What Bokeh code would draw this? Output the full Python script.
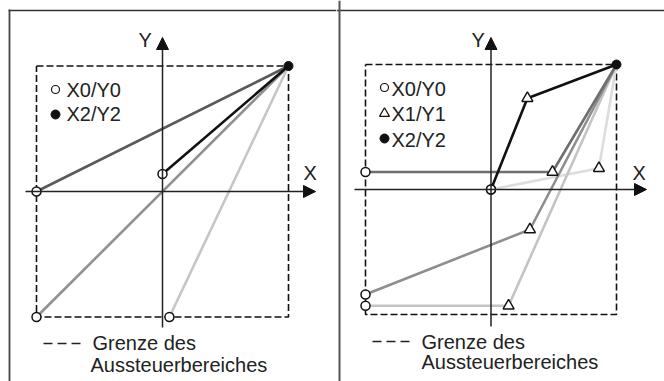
from bokeh.plotting import figure
from bokeh.models import Span, Arrow, NormalHead, Range1d
from bokeh.layouts import row
from bokeh.embed import file_html
from bokeh.resources import INLINE
from bokeh.core.properties import value

# ---------------- data ----------------
# Limits of the control range (dashed box)
lim_x = [-1, 1, 1, -1, -1]
lim_y = [1, 1, -1, -1, 1]

# common end point X2/Y2
x2, y2 = 1.0, 1.0

# left panel: two-point curves X0/Y0 -> X2/Y2
left_x0 = [-1.0, -1.0, 0.055, 0.0]
left_y0 = [0.0, -1.0, -1.0, 0.14]
left_col = ["#5a5a5a", "#909090", "#c6c6c6", "#111111"]

# right panel: three-point curves X0/Y0 -> X1/Y1 -> X2/Y2
right_x0 = [0.0, -1.0, -1.0, -1.0, 0.0]
right_y0 = [0.0, -0.93, -0.84, 0.14, 0.0]
right_x1 = [0.86, 0.14, 0.31, 0.49, 0.29]
right_y1 = [0.17, -0.93, -0.32, 0.14, 0.73]
right_col = ["#dddddd", "#c4c4c4", "#8e8e8e", "#6e6e6e", "#111111"]

legend_left = ["X0/Y0", "X2/Y2"]
legend_right = ["X0/Y0", "X1/Y1", "X2/Y2"]
limit_text = ["Grenze des", "Aussteuerbereiches"]

FONT = value("Liberation Sans")
FS = "20px"
TXT = "#222222"
H = 381
DT = 6  # text baseline correction (px)


def make_fig(w, px_left, cx, sx, cy, sy):
    # page pixel -> data helpers (layout only)
    X = lambda px: (px - cx) / sx
    Y = lambda py: (cy - py) / sy
    p = figure(width=w, height=H, output_backend="svg", toolbar_location=None,
               x_range=Range1d(X(px_left), X(px_left + w)),
               y_range=Range1d(Y(H), Y(0)),
               min_border=0, min_border_left=0, min_border_right=0,
               min_border_top=0, min_border_bottom=0)
    p.xaxis.visible = False
    p.yaxis.visible = False
    p.grid.visible = False
    p.outline_line_color = None
    p.background_fill_color = "white"
    p.border_fill_color = "white"
    return p, X, Y


def axes(p, X, Y, xa0, xa1, ya0, ya1, xl, yl):
    p.add_layout(Arrow(x_start=X(xa0), y_start=0, x_end=X(xa1), y_end=0,
                       line_color="#222222", line_width=1.5,
                       end=NormalHead(size=12, fill_color="#111111", line_color="#111111", line_width=1)))
    p.add_layout(Arrow(x_start=0, y_start=Y(ya0), x_end=0, y_end=Y(ya1),
                       line_color="#222222", line_width=1.5,
                       end=NormalHead(size=12, fill_color="#111111", line_color="#111111", line_width=1)))
    p.text(x=[X(xl[0]), X(yl[0])], y=[Y(xl[1] - DT), Y(yl[1] - DT)], text=["X", "Y"],
           text_font=FONT, text_font_size="20px", text_color=TXT,
           text_baseline="alphabetic", text_align="left")


# ---------------- left panel ----------------
pl, XL, YL = make_fig(336, 0, 162, 126, 191, 125.5)
pl.segment(x0=[XL(8)], y0=[YL(10)], x1=[XL(336)], y1=[YL(10)], line_color="#333333", line_width=1.6)
pl.segment(x0=[XL(9)], y0=[YL(9)], x1=[XL(9)], y1=[YL(381)], line_color="#444444", line_width=1.8)
pl.line(lim_x, lim_y, line_color="#111111", line_width=1.6, line_dash="7 3")
axes(pl, XL, YL, 25, 315, 327, 37, (303, 178), (138, 45))
for x0, y0, c in zip(left_x0, left_y0, left_col):
    pl.line([x0, x2], [y0, y2], line_color=c, line_width=2.6)
pl.scatter(left_x0, left_y0, marker="circle", size=9, fill_color="white",
           line_color="#111111", line_width=1.5)
pl.scatter([x2], [y2], marker="circle", size=9, fill_color="#111111", line_color="#111111")
# legend
pl.scatter([XL(55)], [YL(89)], marker="circle", size=8, fill_color="white", line_color="#111111", line_width=1.2)
pl.scatter([XL(55)], [YL(114)], marker="circle", size=9, fill_color="#111111", line_color="#111111")
pl.text(x=[XL(66), XL(66)], y=[YL(95 - DT), YL(119 - DT)], text=legend_left, text_font=FONT,
        text_font_size=FS, text_color=TXT, text_baseline="alphabetic")
pl.line([XL(43), XL(80)], [YL(343), YL(343)], line_color="#222222", line_width=1.5, line_dash="9 5")
pl.text(x=[XL(92), XL(90)], y=[YL(348 - DT), YL(370 - DT)], text=limit_text, text_font=FONT,
        text_font_size=FS, text_color=TXT, text_baseline="alphabetic")

# ---------------- right panel ----------------
pr, XR, YR = make_fig(328, 336, 490.5, 125.5, 189, 125)
pr.add_layout(Span(location=YR(10), dimension="width", line_color="#333333", line_width=1.6))
pr.add_layout(Span(location=XR(339), dimension="height", line_color="#555555", line_width=2))
pr.line(lim_x, lim_y, line_color="#111111", line_width=1.6, line_dash="7 3")
axes(pr, XR, YR, 354, 646, 326, 37, (632, 178), (471, 45))
for a, b, cc, d, c in zip(right_x0, right_y0, right_x1, right_y1, right_col):
    pr.line([a, cc, x2], [b, d, y2], line_color=c, line_width=2.6)
pr.scatter(right_x0, right_y0, marker="circle", size=9, fill_color="white",
           line_color="#111111", line_width=1.5)
pr.scatter(right_x1, right_y1, marker="triangle", size=11, fill_color="white",
           line_color="#111111", line_width=1.4)
pr.scatter([x2], [y2], marker="circle", size=9, fill_color="#111111", line_color="#111111")
# legend
pr.scatter([XR(384)], [YR(87)], marker="circle", size=8, fill_color="white", line_color="#111111", line_width=1.2)
pr.scatter([XR(384)], [YR(113)], marker="triangle", size=10, fill_color="white", line_color="#111111", line_width=1.2)
pr.scatter([XR(384)], [YR(138)], marker="circle", size=9, fill_color="#111111", line_color="#111111")
pr.text(x=[XR(391)] * 3, y=[YR(94 - DT), YR(119 - DT), YR(145 - DT)], text=legend_right, text_font=FONT,
        text_font_size=FS, text_color=TXT, text_baseline="alphabetic")
pr.line([XR(372), XR(410)], [YR(341), YR(341)], line_color="#222222", line_width=1.5, line_dash="9 5")
pr.text(x=[XR(421), XR(421)], y=[YR(347 - DT), YR(367 - DT)], text=limit_text, text_font=FONT,
        text_font_size=FS, text_color=TXT, text_baseline="alphabetic")

layout = row(pl, pr, spacing=0)
open("out.html", "w").write(file_html(layout, INLINE))
